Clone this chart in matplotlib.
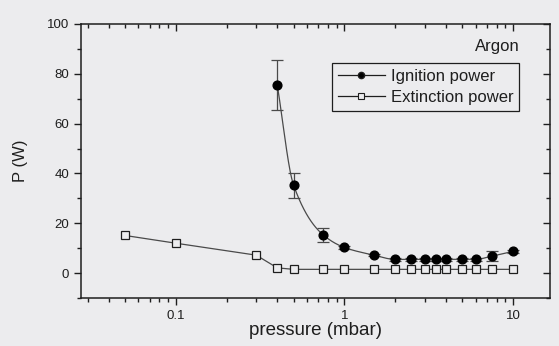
import numpy as np
import matplotlib
matplotlib.use("Agg")
import matplotlib.pyplot as plt
from matplotlib.ticker import FixedLocator, NullFormatter, LogLocator

plt.rcParams["font.family"] = ["Liberation Sans", "DejaVu Sans"]

# Ignition power (W) vs argon pressure (mbar), with error bars
ign_p = [0.4, 0.5, 0.75, 1.0, 1.5, 2.0, 2.5, 3.0, 3.5, 4.0, 5.0, 6.0, 7.5, 10.0]
ign_w = [75.5, 35.3, 15.3, 10.3, 7.2, 5.5, 5.5, 5.5, 5.5, 5.5, 5.5, 5.5, 6.8, 8.7]
ign_err = [10.0, 5.0, 3.0, 0.5, 0.5, 0.5, 0.5, 0.5, 0.5, 0.5, 0.5, 0.5, 2.0, 0.5]

# Extinction power (W) vs pressure (mbar)
ext_p = [0.05, 0.1, 0.3, 0.4, 0.5, 0.75, 1.0, 1.5, 2.0, 2.5, 3.0, 3.5, 4.0, 5.0, 6.0, 7.5, 10.0]
ext_w = [15.1, 12.0, 7.2, 2.1, 1.5, 1.5, 1.5, 1.5, 1.5, 1.5, 1.5, 1.5, 1.5, 1.5, 1.5, 1.5, 1.5]

y_ticks = [0, 20, 40, 60, 80, 100]
x_ticks = [0.1, 1, 10]
x_tick_labels = ["0.1", "1", "10"]


def pchip(x, y, xs):
    """Shape-preserving piecewise cubic Hermite curve through (x, y)."""
    x = np.asarray(x, float)
    y = np.asarray(y, float)
    h = np.diff(x)
    d = np.diff(y) / h
    m = np.zeros_like(y)
    for k in range(1, len(x) - 1):
        if d[k - 1] * d[k] <= 0:
            m[k] = 0.0
        else:
            w1 = 2 * h[k] + h[k - 1]
            w2 = h[k] + 2 * h[k - 1]
            m[k] = (w1 + w2) / (w1 / d[k - 1] + w2 / d[k])
    m[0] = d[0]
    m[-1] = d[-1]
    idx = np.clip(np.searchsorted(x, xs) - 1, 0, len(x) - 2)
    t = (xs - x[idx]) / h[idx]
    h00 = 2 * t**3 - 3 * t**2 + 1
    h10 = t**3 - 2 * t**2 + t
    h01 = -2 * t**3 + 3 * t**2
    h11 = t**3 - t**2
    return (h00 * y[idx] + h10 * h[idx] * m[idx]
            + h01 * y[idx + 1] + h11 * h[idx] * m[idx + 1])


bg = "#ececee"
ink = "#1e1e1e"
line_c = "#4a4a4a"

fig = plt.figure(figsize=(5.59, 3.46), dpi=100, facecolor=bg)
ax = fig.add_axes([81 / 559, 48 / 346, 469 / 559, 274 / 346], facecolor=bg)

# smooth guide curve through the ignition points (in log-pressure)
lx = np.log10(ign_p)
xs = np.linspace(lx[0], lx[-1], 400)
ax.plot(10**xs, pchip(lx, ign_w, xs), color=line_c, lw=0.9, zorder=2)

ax.errorbar(ign_p, ign_w, yerr=ign_err, fmt="none", ecolor=line_c,
            elinewidth=0.9, capsize=4.5, capthick=0.9, zorder=3)
ax.plot(ign_p, ign_w, "o", color="black", ms=6.3, zorder=4)

ax.plot(ext_p, ext_w, "-s", color=line_c, lw=0.9, ms=5.4,
        mfc=bg, mec=ink, mew=0.9, zorder=3)

# legend proxies with short lines on both sides of the marker
h1, = ax.plot([], [], "-o", color=ink, lw=0.9, ms=4.5, mfc="black")
h2, = ax.plot([], [], "-s", color=ink, lw=0.9, ms=4.2, mfc=bg, mec=ink, mew=0.8)

ax.set_xscale("log")
ax.set_xlim(0.0274, 16.6)
ax.set_ylim(-10, 100)

ax.xaxis.set_major_locator(FixedLocator(x_ticks))
ax.set_xticklabels(x_tick_labels)
ax.xaxis.set_minor_locator(LogLocator(base=10, subs=np.arange(2, 10)))
ax.xaxis.set_minor_formatter(NullFormatter())
ax.set_yticks(y_ticks)
ax.yaxis.set_minor_locator(FixedLocator(np.arange(-10, 101, 10)))

for s in ax.spines.values():
    s.set_linewidth(1.1)
    s.set_color(ink)

ax.tick_params(which="both", direction="out", top=False, right=False,
               colors=ink, labelsize=9.5, width=1.0)
ax.tick_params(which="major", length=5)
ax.tick_params(which="minor", length=3)

# inward ticks on the top and right frame
axt = ax.secondary_xaxis("top")
axt.xaxis.set_major_locator(FixedLocator(x_ticks))
axt.xaxis.set_minor_locator(LogLocator(base=10, subs=np.arange(2, 10)))
axt.tick_params(which="both", direction="in", labeltop=False, colors=ink, width=1.0)
axt.tick_params(which="major", length=5)
axt.tick_params(which="minor", length=3)
axt.xaxis.set_minor_formatter(NullFormatter())
axt.spines["top"].set_visible(False)

axr = ax.secondary_yaxis("right")
axr.yaxis.set_major_locator(FixedLocator(y_ticks))
axr.yaxis.set_minor_locator(FixedLocator(np.arange(-10, 101, 10)))
axr.tick_params(which="both", direction="in", labelright=False, colors=ink, width=1.0)
axr.tick_params(which="major", length=5)
axr.tick_params(which="minor", length=3)
axr.spines["right"].set_visible(False)

ax.set_xlabel("pressure (mbar)", fontsize=13.5, color=ink, labelpad=0)
ax.set_ylabel("P (W)", fontsize=12, color=ink, labelpad=14)

ax.text(0.936, 0.917, "Argon", transform=ax.transAxes, ha="right",
        va="center", fontsize=12, color=ink)

leg = ax.legend([h1, h2], ["Ignition power", "Extinction power"],
                loc="upper right", bbox_to_anchor=(0.934, 0.856),
                borderaxespad=0, fontsize=12, handlelength=2.8,
                handletextpad=0.35, labelspacing=0.35, borderpad=0.35,
                fancybox=False, framealpha=1, facecolor=bg,
                edgecolor=ink, labelcolor=ink)
leg.get_frame().set_linewidth(0.9)

fig.savefig("out.png", dpi=100, facecolor=bg)
